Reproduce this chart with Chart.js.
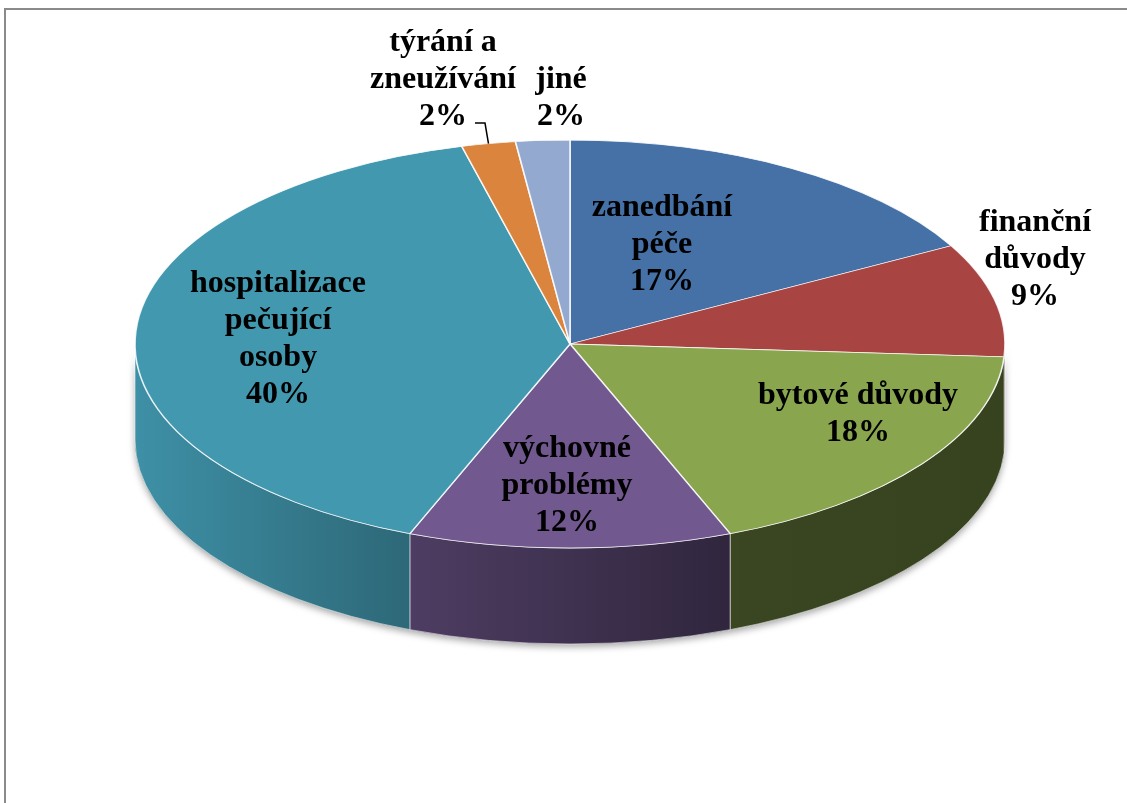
<!DOCTYPE html>
<html lang="cs">
<head>
<meta charset="UTF-8">
<title>Důvody umístění dítěte</title>
<script src="https://cdn.jsdelivr.net/npm/chart.js"></script>
<style>
  html, body { margin: 0; padding: 0; background: #fff; overflow: hidden; }
  #frame {
    position: absolute;
    left: 4px;
    top: 8px;
    width: 1200px;
    height: 900px;
    border: 2px solid #8a8a8a;
  }
  #pie { position: absolute; left: 0; top: 0; }
</style>
</head>
<body>
<div id="frame"></div>
<canvas id="pie" width="1127" height="803"></canvas>
<script>
// categories as label lines, shares in percent
const categories = [
  ["zanedbání", "péče"],
  ["finanční", "důvody"],
  ["bytové důvody"],
  ["výchovné", "problémy"],
  ["hospitalizace", "pečující", "osoby"],
  ["týrání a", "zneužívání"],
  ["jiné"]
];
const shares = [17, 9, 18, 12, 40, 2, 2];
const topColors = ["#4571A7", "#A84442", "#89A54E", "#71588F", "#4198AF", "#DB843D", "#93A9CF"];

// how the flat pie is laid onto the tilted disc
const DISC = { cx: 570, cy: 344, rx: 435, ry: 204, depth: 96 };
// centre of each label block
const labelSpots = [[662, 245], [1035, 260], [858, 414], [567, 486], [278, 339], [443, 80], [561, 98]];
const FONT = "bold 32px 'Liberation Serif', 'Times New Roman', serif";
const LINE_H = 37;

function shade(hex, f) {
  const n = parseInt(hex.slice(1), 16);
  const r = Math.round(((n >> 16) & 255) * f);
  const g = Math.round(((n >> 8) & 255) * f);
  const b = Math.round((n & 255) * f);
  return `rgb(${r},${g},${b})`;
}

function wallPath(ctx, a, b) {
  ctx.beginPath();
  ctx.ellipse(DISC.cx, DISC.cy, DISC.rx, DISC.ry, 0, a, b, false);
  ctx.ellipse(DISC.cx, DISC.cy + DISC.depth, DISC.rx, DISC.ry, 0, b, a, true);
  ctx.closePath();
}

const pie3d = {
  id: "pie3d",
  beforeDatasetsDraw(chart) {
    const ctx = chart.ctx;
    const arcs = chart.getDatasetMeta(0).data;

    // soft shadow under the front rim
    ctx.save();
    ctx.shadowColor = "rgba(0,0,0,0.35)";
    ctx.shadowBlur = 7;
    ctx.shadowOffsetY = 3;
    ctx.fillStyle = "#777";
    wallPath(ctx, 0, Math.PI);
    ctx.fill();
    ctx.restore();

    // side walls, only the front half of the disc is visible
    arcs.forEach((arc, i) => {
      const a = Math.max(arc.startAngle, 0);
      const b = Math.min(arc.endAngle, Math.PI);
      if (b <= a) return;
      const grad = ctx.createLinearGradient(DISC.cx - DISC.rx, 0, DISC.cx + DISC.rx, 0);
      grad.addColorStop(0, shade(topColors[i], 0.95));
      grad.addColorStop(0.3, shade(topColors[i], 0.7));
      grad.addColorStop(0.7, shade(topColors[i], 0.42));
      grad.addColorStop(1, shade(topColors[i], 0.4));
      ctx.save();
      wallPath(ctx, a, b);
      ctx.fillStyle = grad;
      ctx.fill();
      ctx.strokeStyle = "rgba(255,255,255,0.55)";
      ctx.lineWidth = 1;
      ctx.stroke();
      ctx.restore();
    });

    // squash the flat pie onto the top face
    const first = arcs[0];
    const R = first.outerRadius;
    ctx.save();
    ctx.translate(DISC.cx, DISC.cy);
    ctx.scale(DISC.rx / R, DISC.ry / R);
    ctx.translate(-first.x, -first.y);
  },
  afterDatasetsDraw(chart) {
    chart.ctx.restore();
  },
  afterDraw(chart) {
    const ctx = chart.ctx;
    const arcs = chart.getDatasetMeta(0).data;
    ctx.save();
    ctx.font = FONT;
    ctx.fillStyle = "#000";
    ctx.textAlign = "center";
    ctx.textBaseline = "middle";
    categories.forEach((lines, i) => {
      const all = lines.concat([shares[i] + "%"]);
      const [x, y] = labelSpots[i];
      all.forEach((t, k) => {
        ctx.fillText(t, x, y + (k - (all.length - 1) / 2) * LINE_H);
      });
    });

    // leader line from the orange slice's label to its rim
    const arc = arcs[5];
    const mid = (arc.startAngle + arc.endAngle) / 2;
    const ex = DISC.cx + DISC.rx * Math.cos(mid);
    const ey = DISC.cy + DISC.ry * Math.sin(mid);
    const lx = labelSpots[5][0] + 32;
    const ly = labelSpots[5][1] + 43;
    ctx.beginPath();
    ctx.moveTo(lx, ly);
    ctx.lineTo(lx + 10, ly);
    ctx.lineTo(ex, ey);
    ctx.strokeStyle = "#000";
    ctx.lineWidth = 1.5;
    ctx.stroke();
    ctx.restore();
  }
};

new Chart(document.getElementById("pie"), {
  type: "pie",
  data: {
    labels: categories,
    datasets: [{
      data: shares,
      backgroundColor: topColors,
      borderColor: "rgba(255,255,255,0.85)",
      borderWidth: 1.5
    }]
  },
  options: {
    responsive: false,
    animation: false,
    events: [],
    layout: { padding: 0 },
    plugins: {
      legend: { display: false },
      tooltip: { enabled: false }
    }
  },
  plugins: [pie3d]
});
</script>
</body>
</html>
